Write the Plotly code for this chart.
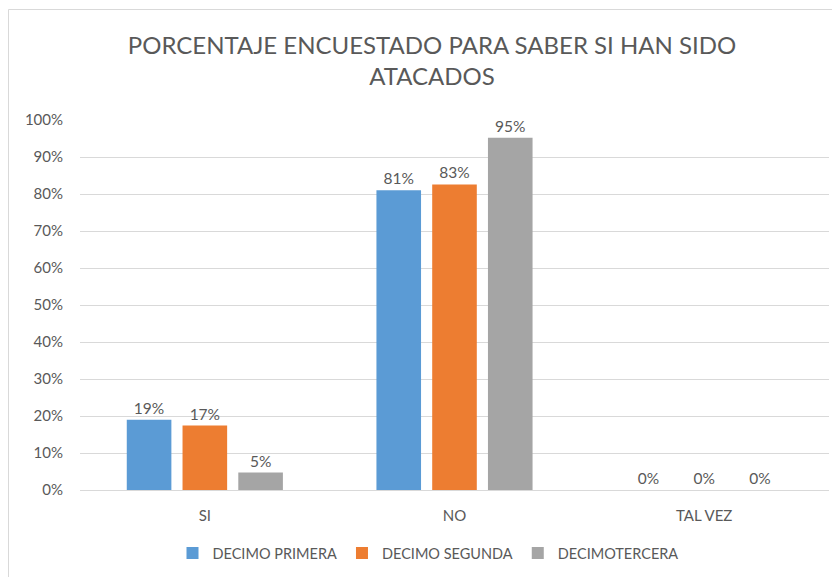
import plotly.graph_objects as go

categories = ["SI", "NO", "TAL VEZ"]
series_names = ["DECIMO PRIMERA", "DECIMO SEGUNDA", "DECIMOTERCERA"]
decimo_primera = [0.19, 0.81, 0.0]
decimo_segunda = [0.174, 0.826, 0.0]
decimotercera = [0.047, 0.952, 0.0]
colors = ["#5B9BD5", "#ED7D31", "#A5A5A5"]
y_ticks = [0, 0.1, 0.2, 0.3, 0.4, 0.5, 0.6, 0.7, 0.8, 0.9, 1.0]

FONT = "Lato, 'Open Sans', sans-serif"
TXT = "#595959"

# page body has an 8px margin: work in screen coordinates minus 8
OFF = 8
W, H = 840 - OFF, 577 - OFF
L, R, T, B = 80 - OFF, 11, 120 - OFF, 577 - 490
pw, ph = W - L - R, H - T - B

def px_x(px):
    return (px - OFF - L) / pw

def px_y(py):
    return (H - B - (py - OFF)) / ph

fig = go.Figure()
for name, vals, col in zip(series_names, [decimo_primera, decimo_segunda, decimotercera], colors):
    fig.add_trace(go.Bar(
        x=categories, y=vals, name=name, marker=dict(color=col, line=dict(width=0)),
        texttemplate="%{y:.0%}", textposition="outside", cliponaxis=False,
        textfont=dict(size=15.5, color=TXT, family=FONT),
    ))

fig.update_layout(
    width=W, height=H,
    margin=dict(l=L, r=R, t=T, b=B),
    paper_bgcolor="white", plot_bgcolor="white",
    font=dict(family=FONT, color=TXT, size=14),
    title=dict(text="PORCENTAJE ENCUESTADO PARA SABER SI HAN SIDO<br>ATACADOS",
               x=(432 - OFF) / W, xref="container", xanchor="center",
               y=1 - (54 - OFF) / H, yanchor="middle",
               font=dict(size=24, color=TXT, family=FONT)),
    barmode="group", bargap=0.33, bargroupgap=0.2,
    showlegend=True,
    legend=dict(orientation="h", x=(428 - OFF) / W, xanchor="center", xref="container",
                y=1 - (553 - OFF) / H, yref="container", yanchor="middle",
                font=dict(size=14.5, color=TXT, family=FONT),
                itemwidth=30, traceorder="normal"),
    xaxis=dict(showline=False, ticks="", ticklabelstandoff=15,
               tickfont=dict(size=15, color=TXT, family=FONT), showgrid=False),
    yaxis=dict(range=[0, 1], tickvals=y_ticks, tickformat=".0%", showgrid=True,
               gridcolor="#D9D9D9", gridwidth=1, zeroline=True, zerolinecolor="#D9D9D9",
               zerolinewidth=1, ticks="", ticklabelstandoff=16,
               tickfont=dict(size=15, color=TXT, family=FONT)),
    shapes=[dict(type="rect", xref="paper", yref="paper",
                 x0=px_x(8.5), x1=px_x(900), y0=px_y(700), y1=px_y(9.5),
                 line=dict(color="#D9D9D9", width=1), fillcolor="rgba(0,0,0,0)", layer="below")],
)

fig.write_html("out.html")
